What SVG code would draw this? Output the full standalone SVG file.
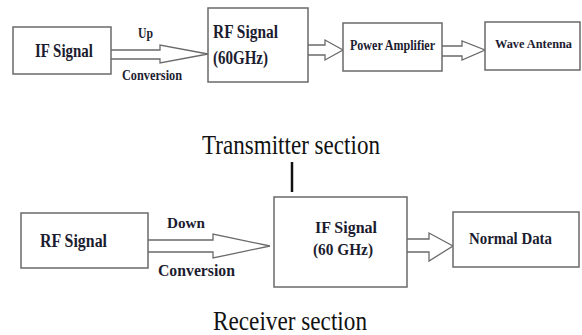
<svg xmlns="http://www.w3.org/2000/svg" width="582" height="335" viewBox="0 0 582 335">
<style>
.box{fill:#fff;stroke:#6a6a6a;stroke-width:1.5}
.arr{fill:#fff;stroke:#6a6a6a;stroke-width:1.3;stroke-linejoin:miter}
.lbl{font-family:"Liberation Serif","Times New Roman",serif;font-weight:bold;fill:#1c1c30}
.ttl{font-family:"Liberation Serif","Times New Roman",serif;font-size:27px;fill:#111}
</style>
<rect width="582" height="335" fill="#fff"/>
<g id="connectors">
<path class="arr" d="M111,50 H160 V45 L208,54 L160,63 V59 H111"/>
<path class="arr" d="M308,45 H325 V40 L343,50 L325,60 V55 H308"/>
<path class="arr" d="M442,46 H462 V41 L485,50 L462,60 V56 H442"/>
<path class="arr" d="M148,240 H213 V234 L270,246 L213,258 V252 H148"/>
<path class="arr" d="M407,239 H429 V233 L453,246 L429,261 V252 H407"/>
<line x1="292" y1="162" x2="292" y2="192" stroke="#111" stroke-width="2.5"/>
<text class="lbl" x="138" y="38" font-size="14" textLength="15" lengthAdjust="spacingAndGlyphs">Up</text>
<text class="lbl" x="122" y="80" font-size="14" textLength="60" lengthAdjust="spacingAndGlyphs">Conversion</text>
<text class="lbl" x="167" y="228" font-size="15" textLength="38" lengthAdjust="spacingAndGlyphs">Down</text>
<text class="lbl" x="158" y="276" font-size="16" textLength="77" lengthAdjust="spacingAndGlyphs">Conversion</text>
</g>
<g id="tx-if">
<rect class="box" x="13" y="27" width="98" height="47"/>
<text class="lbl" x="35" y="57" font-size="19" textLength="58" lengthAdjust="spacingAndGlyphs">IF Signal</text>
</g>
<g id="tx-rf">
<rect class="box" x="208" y="8" width="100" height="74"/>
<text class="lbl" x="213" y="38" font-size="18" textLength="65" lengthAdjust="spacingAndGlyphs">RF Signal</text>
<text class="lbl" x="213" y="64" font-size="18" textLength="55" lengthAdjust="spacingAndGlyphs">(60GHz)</text>
</g>
<g id="tx-pa">
<rect class="box" x="343" y="23" width="99" height="48"/>
<text class="lbl" x="350" y="50" font-size="15" textLength="85" lengthAdjust="spacingAndGlyphs">Power Amplifier</text>
</g>
<g id="tx-ant">
<rect class="box" x="485" y="22" width="95" height="48"/>
<text class="lbl" x="495" y="48" font-size="12.5" textLength="77" lengthAdjust="spacingAndGlyphs">Wave Antenna</text>
</g>
<g id="tx-title">
<text class="ttl" x="202" y="154" textLength="178" lengthAdjust="spacingAndGlyphs">Transmitter section</text>
</g>
<g id="rx-rf">
<rect class="box" x="21" y="213" width="127" height="55"/>
<text class="lbl" x="40" y="247" font-size="18" textLength="67" lengthAdjust="spacingAndGlyphs">RF Signal</text>
</g>
<g id="rx-if">
<rect class="box" x="274" y="197" width="133" height="90"/>
<text class="lbl" x="315" y="233" font-size="17" textLength="62" lengthAdjust="spacingAndGlyphs">IF Signal</text>
<text class="lbl" x="313" y="255" font-size="17" textLength="60" lengthAdjust="spacingAndGlyphs">(60 GHz)</text>
</g>
<g id="rx-data">
<rect class="box" x="453" y="212" width="126" height="55"/>
<text class="lbl" x="469" y="244" font-size="16" textLength="83" lengthAdjust="spacingAndGlyphs">Normal Data</text>
</g>
<g id="rx-title">
<text class="ttl" x="213" y="330" textLength="154" lengthAdjust="spacingAndGlyphs">Receiver section</text>
</g>
</svg>
